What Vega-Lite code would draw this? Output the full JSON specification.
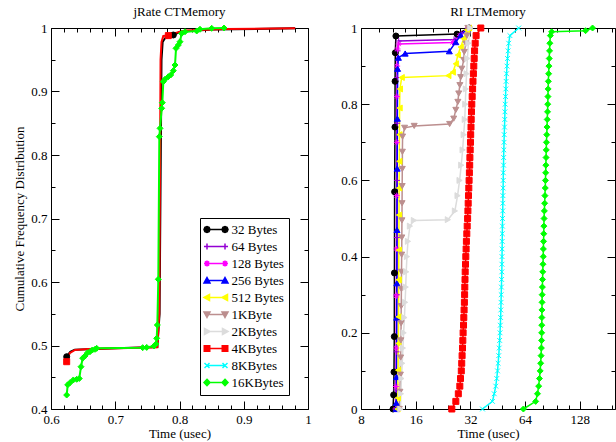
{
  "$schema": "https://vega.github.io/schema/vega-lite/v6.json",
  "background": "white",
  "padding": {"left": 13, "top": 5, "right": 0, "bottom": 0},
  "config": {
    "font": "Liberation Serif",
    "view": {"stroke": "black", "strokeWidth": 1},
    "axis": {"labelFont": "Liberation Serif", "labelFontSize": 13, "labelColor": "black", "titleFont": "Liberation Serif", "titleFontSize": 13, "titleFontWeight": "normal", "titleColor": "black", "tickColor": "black", "tickWidth": 1, "grid": false, "domain": false},
    "title": {"font": "Liberation Serif", "fontSize": 13, "fontWeight": "normal", "color": "black", "offset": 3},
    "legend": {"title": null, "orient": "none", "legendX": 149, "legendY": 190, "symbolSize": 100, "symbolStrokeWidth": 1.5, "symbolOpacity": 1, "labelFont": "Liberation Serif", "labelFontSize": 13, "labelColor": "black", "rowPadding": 3, "padding": 5, "strokeColor": "black", "fillColor": "white", "symbolOffset": 4.5, "labelOffset": 9},
    "concat": {"spacing": 28}
  },
  "resolve": {"scale": {"color": "independent", "shape": "independent", "stroke": "independent"}},
  "datasets": {
    "leftLines": [
      {"s":"32 Bytes","t":0.6244,"p":0.4824},{"s":"32 Bytes","t":0.63,"p":0.49},{"s":"32 Bytes","t":0.637,"p":0.4935},{"s":"32 Bytes","t":0.7,"p":0.4955},{"s":"32 Bytes","t":0.7655,"p":0.4975},{"s":"32 Bytes","t":0.769,"p":0.55},{"s":"32 Bytes","t":0.772,"p":0.95},{"s":"32 Bytes","t":0.7738,"p":0.978},{"s":"32 Bytes","t":0.7774,"p":0.9838},{"s":"32 Bytes","t":0.7904,"p":0.989},{"s":"32 Bytes","t":0.8008,"p":0.994},{"s":"32 Bytes","t":0.85,"p":0.9975},{"s":"32 Bytes","t":0.98,"p":0.9995},
      {"s":"4KBytes","t":0.6244,"p":0.4745},{"s":"4KBytes","t":0.629,"p":0.488},{"s":"4KBytes","t":0.6374,"p":0.493},{"s":"4KBytes","t":0.658,"p":0.4945},{"s":"4KBytes","t":0.7655,"p":0.4972},{"s":"4KBytes","t":0.7685,"p":0.55},{"s":"4KBytes","t":0.7705,"p":0.95},{"s":"4KBytes","t":0.772,"p":0.978},{"s":"4KBytes","t":0.7748,"p":0.9874},{"s":"4KBytes","t":0.7826,"p":0.988},{"s":"4KBytes","t":0.7904,"p":0.9915},{"s":"4KBytes","t":0.81,"p":0.996},{"s":"4KBytes","t":0.87,"p":0.9985},{"s":"4KBytes","t":0.98,"p":0.9995},
      {"s":"16KBytes","t":0.6244,"p":0.422},{"s":"16KBytes","t":0.626,"p":0.438},{"s":"16KBytes","t":0.6296,"p":0.4414},{"s":"16KBytes","t":0.6347,"p":0.4457},{"s":"16KBytes","t":0.64,"p":0.4468},{"s":"16KBytes","t":0.644,"p":0.448},{"s":"16KBytes","t":0.6467,"p":0.4666},{"s":"16KBytes","t":0.6493,"p":0.48},{"s":"16KBytes","t":0.6529,"p":0.4835},{"s":"16KBytes","t":0.657,"p":0.4887},{"s":"16KBytes","t":0.6607,"p":0.4902},{"s":"16KBytes","t":0.6643,"p":0.4929},{"s":"16KBytes","t":0.6685,"p":0.494},{"s":"16KBytes","t":0.6711,"p":0.4955},{"s":"16KBytes","t":0.7427,"p":0.4966},{"s":"16KBytes","t":0.749,"p":0.497},{"s":"16KBytes","t":0.7603,"p":0.4992},{"s":"16KBytes","t":0.7634,"p":0.5024},{"s":"16KBytes","t":0.7645,"p":0.5113},{"s":"16KBytes","t":0.7655,"p":0.5323},{"s":"16KBytes","t":0.767,"p":0.6043},{"s":"16KBytes","t":0.7686,"p":0.8289},{"s":"16KBytes","t":0.7697,"p":0.842},{"s":"16KBytes","t":0.7723,"p":0.8735},{"s":"16KBytes","t":0.7733,"p":0.8824},{"s":"16KBytes","t":0.7748,"p":0.9155},{"s":"16KBytes","t":0.7774,"p":0.9192},{"s":"16KBytes","t":0.7826,"p":0.9233},{"s":"16KBytes","t":0.7863,"p":0.926},{"s":"16KBytes","t":0.7904,"p":0.9328},{"s":"16KBytes","t":0.793,"p":0.9417},{"s":"16KBytes","t":0.7946,"p":0.968},{"s":"16KBytes","t":0.7982,"p":0.9732},{"s":"16KBytes","t":0.8008,"p":0.9784},{"s":"16KBytes","t":0.8034,"p":0.9915},{"s":"16KBytes","t":0.8086,"p":0.9941},{"s":"16KBytes","t":0.8268,"p":0.9953},{"s":"16KBytes","t":0.8319,"p":0.998},{"s":"16KBytes","t":0.8501,"p":0.9995},{"s":"16KBytes","t":0.8693,"p":1.0}
    ],
    "leftMarks": [
      {"s":"32 Bytes","t":0.6244,"p":0.4824},{"s":"32 Bytes","t":0.7904,"p":0.989},
      {"s":"4KBytes","t":0.6244,"p":0.4745},{"s":"4KBytes","t":0.7826,"p":0.988},
      {"s":"16KBytes","t":0.6244,"p":0.422},{"s":"16KBytes","t":0.626,"p":0.438},{"s":"16KBytes","t":0.6296,"p":0.4414},{"s":"16KBytes","t":0.6347,"p":0.4457},{"s":"16KBytes","t":0.64,"p":0.4468},{"s":"16KBytes","t":0.644,"p":0.448},{"s":"16KBytes","t":0.6467,"p":0.4666},{"s":"16KBytes","t":0.6493,"p":0.48},{"s":"16KBytes","t":0.6529,"p":0.4835},{"s":"16KBytes","t":0.657,"p":0.4887},{"s":"16KBytes","t":0.6607,"p":0.4902},{"s":"16KBytes","t":0.6643,"p":0.4929},{"s":"16KBytes","t":0.6685,"p":0.494},{"s":"16KBytes","t":0.6711,"p":0.4955},{"s":"16KBytes","t":0.7427,"p":0.4966},{"s":"16KBytes","t":0.749,"p":0.497},{"s":"16KBytes","t":0.7603,"p":0.4992},{"s":"16KBytes","t":0.7634,"p":0.5024},{"s":"16KBytes","t":0.7645,"p":0.5113},{"s":"16KBytes","t":0.7655,"p":0.5323},{"s":"16KBytes","t":0.767,"p":0.6043},{"s":"16KBytes","t":0.7686,"p":0.8289},{"s":"16KBytes","t":0.7697,"p":0.842},{"s":"16KBytes","t":0.7723,"p":0.8735},{"s":"16KBytes","t":0.7733,"p":0.8824},{"s":"16KBytes","t":0.7748,"p":0.9155},{"s":"16KBytes","t":0.7774,"p":0.9192},{"s":"16KBytes","t":0.7826,"p":0.9233},{"s":"16KBytes","t":0.7863,"p":0.926},{"s":"16KBytes","t":0.7904,"p":0.9328},{"s":"16KBytes","t":0.793,"p":0.9417},{"s":"16KBytes","t":0.7946,"p":0.968},{"s":"16KBytes","t":0.7982,"p":0.9732},{"s":"16KBytes","t":0.8008,"p":0.9784},{"s":"16KBytes","t":0.8034,"p":0.9915},{"s":"16KBytes","t":0.8086,"p":0.9941},{"s":"16KBytes","t":0.8268,"p":0.9953},{"s":"16KBytes","t":0.8319,"p":0.998},{"s":"16KBytes","t":0.8501,"p":0.9995},{"s":"16KBytes","t":0.8693,"p":1.0}
    ],
    "right": [
      {"s":"32 Bytes","t":12.0,"p":0},{"s":"32 Bytes","t":12.1,"p":0.037},{"s":"32 Bytes","t":12.15,"p":0.097},{"s":"32 Bytes","t":12.2,"p":0.19},{"s":"32 Bytes","t":12.22,"p":0.357},{"s":"32 Bytes","t":12.25,"p":0.57},{"s":"32 Bytes","t":12.3,"p":0.74},{"s":"32 Bytes","t":12.32,"p":0.86},{"s":"32 Bytes","t":12.36,"p":0.935},{"s":"32 Bytes","t":12.45,"p":0.979},{"s":"32 Bytes","t":27.0,"p":0.984},{"s":"32 Bytes","t":31.5,"p":1.0},
      {"s":"64 Bytes","t":12.45,"p":0},{"s":"64 Bytes","t":12.5,"p":0.05},{"s":"64 Bytes","t":12.55,"p":0.15},{"s":"64 Bytes","t":12.58,"p":0.3},{"s":"64 Bytes","t":12.6,"p":0.45},{"s":"64 Bytes","t":12.62,"p":0.6},{"s":"64 Bytes","t":12.65,"p":0.75},{"s":"64 Bytes","t":12.68,"p":0.87},{"s":"64 Bytes","t":12.72,"p":0.94},{"s":"64 Bytes","t":12.9,"p":0.966},{"s":"64 Bytes","t":26.0,"p":0.97},{"s":"64 Bytes","t":28.5,"p":0.985},{"s":"64 Bytes","t":31.2,"p":1.0},
      {"s":"128 Bytes","t":12.4,"p":0},{"s":"128 Bytes","t":12.45,"p":0.059},{"s":"128 Bytes","t":12.5,"p":0.16},{"s":"128 Bytes","t":12.52,"p":0.297},{"s":"128 Bytes","t":12.55,"p":0.42},{"s":"128 Bytes","t":12.58,"p":0.56},{"s":"128 Bytes","t":12.6,"p":0.7},{"s":"128 Bytes","t":12.62,"p":0.82},{"s":"128 Bytes","t":12.65,"p":0.9},{"s":"128 Bytes","t":12.7,"p":0.945},{"s":"128 Bytes","t":12.9,"p":0.958},{"s":"128 Bytes","t":25.5,"p":0.962},{"s":"128 Bytes","t":28.0,"p":0.98},{"s":"128 Bytes","t":31.0,"p":1.0},
      {"s":"256 Bytes","t":12.5,"p":0},{"s":"256 Bytes","t":12.52,"p":0.016},{"s":"256 Bytes","t":12.55,"p":0.084},{"s":"256 Bytes","t":12.58,"p":0.24},{"s":"256 Bytes","t":12.6,"p":0.33},{"s":"256 Bytes","t":12.62,"p":0.47},{"s":"256 Bytes","t":12.65,"p":0.631},{"s":"256 Bytes","t":12.68,"p":0.762},{"s":"256 Bytes","t":12.72,"p":0.893},{"s":"256 Bytes","t":12.85,"p":0.922},{"s":"256 Bytes","t":14.0,"p":0.933},{"s":"256 Bytes","t":24.5,"p":0.939},{"s":"256 Bytes","t":26.6,"p":0.963},{"s":"256 Bytes","t":28.3,"p":0.981},{"s":"256 Bytes","t":31.1,"p":1.0},
      {"s":"512 Bytes","t":12.7,"p":0},{"s":"512 Bytes","t":12.75,"p":0.029},{"s":"512 Bytes","t":12.8,"p":0.102},{"s":"512 Bytes","t":12.85,"p":0.172},{"s":"512 Bytes","t":12.88,"p":0.242},{"s":"512 Bytes","t":12.9,"p":0.339},{"s":"512 Bytes","t":12.92,"p":0.417},{"s":"512 Bytes","t":12.95,"p":0.509},{"s":"512 Bytes","t":12.97,"p":0.58},{"s":"512 Bytes","t":13.0,"p":0.65},{"s":"512 Bytes","t":13.02,"p":0.72},{"s":"512 Bytes","t":13.05,"p":0.79},{"s":"512 Bytes","t":13.1,"p":0.84},{"s":"512 Bytes","t":13.4,"p":0.87},{"s":"512 Bytes","t":24.2,"p":0.875},{"s":"512 Bytes","t":25.6,"p":0.884},{"s":"512 Bytes","t":26.6,"p":0.906},{"s":"512 Bytes","t":27.3,"p":0.929},{"s":"512 Bytes","t":28.3,"p":0.95},{"s":"512 Bytes","t":29.4,"p":0.972},{"s":"512 Bytes","t":30.6,"p":0.995},{"s":"512 Bytes","t":31.4,"p":1.0},
      {"s":"1KByte","t":13.0,"p":0},{"s":"1KByte","t":13.1,"p":0.045},{"s":"1KByte","t":13.18,"p":0.09},{"s":"1KByte","t":13.22,"p":0.135},{"s":"1KByte","t":13.26,"p":0.18},{"s":"1KByte","t":13.3,"p":0.225},{"s":"1KByte","t":13.32,"p":0.27},{"s":"1KByte","t":13.35,"p":0.315},{"s":"1KByte","t":13.37,"p":0.36},{"s":"1KByte","t":13.4,"p":0.405},{"s":"1KByte","t":13.42,"p":0.45},{"s":"1KByte","t":13.44,"p":0.495},{"s":"1KByte","t":13.46,"p":0.54},{"s":"1KByte","t":13.48,"p":0.585},{"s":"1KByte","t":13.5,"p":0.63},{"s":"1KByte","t":13.52,"p":0.675},{"s":"1KByte","t":13.55,"p":0.715},{"s":"1KByte","t":13.9,"p":0.738},{"s":"1KByte","t":15.7,"p":0.743},{"s":"1KByte","t":24.6,"p":0.748},{"s":"1KByte","t":25.9,"p":0.762},{"s":"1KByte","t":26.6,"p":0.785},{"s":"1KByte","t":27.3,"p":0.806},{"s":"1KByte","t":27.6,"p":0.828},{"s":"1KByte","t":28.0,"p":0.85},{"s":"1KByte","t":28.3,"p":0.871},{"s":"1KByte","t":28.7,"p":0.893},{"s":"1KByte","t":29.4,"p":0.916},{"s":"1KByte","t":29.6,"p":0.937},{"s":"1KByte","t":30.2,"p":0.959},{"s":"1KByte","t":30.6,"p":0.98},{"s":"1KByte","t":31.0,"p":1.0},
      {"s":"2KBytes","t":13.19,"p":0},{"s":"2KBytes","t":13.27,"p":0.04},{"s":"2KBytes","t":13.35,"p":0.08},{"s":"2KBytes","t":13.49,"p":0.12},{"s":"2KBytes","t":13.61,"p":0.16},{"s":"2KBytes","t":13.73,"p":0.2},{"s":"2KBytes","t":13.87,"p":0.24},{"s":"2KBytes","t":13.99,"p":0.28},{"s":"2KBytes","t":14.1,"p":0.32},{"s":"2KBytes","t":14.19,"p":0.36},{"s":"2KBytes","t":14.32,"p":0.4},{"s":"2KBytes","t":14.5,"p":0.44},{"s":"2KBytes","t":14.87,"p":0.48},{"s":"2KBytes","t":15.64,"p":0.495},{"s":"2KBytes","t":24.05,"p":0.497},{"s":"2KBytes","t":26.3,"p":0.52},{"s":"2KBytes","t":27.2,"p":0.56},{"s":"2KBytes","t":27.9,"p":0.6},{"s":"2KBytes","t":28.5,"p":0.64},{"s":"2KBytes","t":29.0,"p":0.68},{"s":"2KBytes","t":29.4,"p":0.72},{"s":"2KBytes","t":29.8,"p":0.76},{"s":"2KBytes","t":30.0,"p":0.8},{"s":"2KBytes","t":30.2,"p":0.84},{"s":"2KBytes","t":30.5,"p":0.88},{"s":"2KBytes","t":30.8,"p":0.92},{"s":"2KBytes","t":31.2,"p":0.96},{"s":"2KBytes","t":32.0,"p":1.0},
      {"s":"4KBytes","t":25.29,"p":0},{"s":"4KBytes","t":26.61,"p":0.02},{"s":"4KBytes","t":27.46,"p":0.04},{"s":"4KBytes","t":27.99,"p":0.06},{"s":"4KBytes","t":28.23,"p":0.08},{"s":"4KBytes","t":28.52,"p":0.1},{"s":"4KBytes","t":28.67,"p":0.12},{"s":"4KBytes","t":28.81,"p":0.14},{"s":"4KBytes","t":28.96,"p":0.16},{"s":"4KBytes","t":29.07,"p":0.18},{"s":"4KBytes","t":29.18,"p":0.2},{"s":"4KBytes","t":29.33,"p":0.22},{"s":"4KBytes","t":29.44,"p":0.24},{"s":"4KBytes","t":29.55,"p":0.26},{"s":"4KBytes","t":29.66,"p":0.28},{"s":"4KBytes","t":29.74,"p":0.3},{"s":"4KBytes","t":29.81,"p":0.32},{"s":"4KBytes","t":29.89,"p":0.34},{"s":"4KBytes","t":29.96,"p":0.36},{"s":"4KBytes","t":30.08,"p":0.38},{"s":"4KBytes","t":30.19,"p":0.4},{"s":"4KBytes","t":30.31,"p":0.42},{"s":"4KBytes","t":30.42,"p":0.44},{"s":"4KBytes","t":30.58,"p":0.46},{"s":"4KBytes","t":30.73,"p":0.48},{"s":"4KBytes","t":30.89,"p":0.5},{"s":"4KBytes","t":31.01,"p":0.52},{"s":"4KBytes","t":31.12,"p":0.54},{"s":"4KBytes","t":31.24,"p":0.56},{"s":"4KBytes","t":31.36,"p":0.58},{"s":"4KBytes","t":31.48,"p":0.6},{"s":"4KBytes","t":31.6,"p":0.62},{"s":"4KBytes","t":31.72,"p":0.64},{"s":"4KBytes","t":31.8,"p":0.66},{"s":"4KBytes","t":31.92,"p":0.68},{"s":"4KBytes","t":32.04,"p":0.7},{"s":"4KBytes","t":32.12,"p":0.72},{"s":"4KBytes","t":32.25,"p":0.74},{"s":"4KBytes","t":32.33,"p":0.76},{"s":"4KBytes","t":32.45,"p":0.78},{"s":"4KBytes","t":32.57,"p":0.8},{"s":"4KBytes","t":32.74,"p":0.82},{"s":"4KBytes","t":32.91,"p":0.84},{"s":"4KBytes","t":33.07,"p":0.86},{"s":"4KBytes","t":33.24,"p":0.88},{"s":"4KBytes","t":33.41,"p":0.9},{"s":"4KBytes","t":33.58,"p":0.92},{"s":"4KBytes","t":33.75,"p":0.94},{"s":"4KBytes","t":34.01,"p":0.96},{"s":"4KBytes","t":34.4,"p":0.98},{"s":"4KBytes","t":36.51,"p":1.0},
      {"s":"8KBytes","t":37.3,"p":0},{"s":"8KBytes","t":42.32,"p":0.02},{"s":"8KBytes","t":43.29,"p":0.04},{"s":"8KBytes","t":44.13,"p":0.06},{"s":"8KBytes","t":44.69,"p":0.08},{"s":"8KBytes","t":45.14,"p":0.1},{"s":"8KBytes","t":45.49,"p":0.12},{"s":"8KBytes","t":45.83,"p":0.14},{"s":"8KBytes","t":46.12,"p":0.16},{"s":"8KBytes","t":46.36,"p":0.18},{"s":"8KBytes","t":46.59,"p":0.2},{"s":"8KBytes","t":46.77,"p":0.22},{"s":"8KBytes","t":46.95,"p":0.24},{"s":"8KBytes","t":47.07,"p":0.26},{"s":"8KBytes","t":47.19,"p":0.28},{"s":"8KBytes","t":47.3,"p":0.3},{"s":"8KBytes","t":47.42,"p":0.32},{"s":"8KBytes","t":47.54,"p":0.34},{"s":"8KBytes","t":47.66,"p":0.36},{"s":"8KBytes","t":47.72,"p":0.38},{"s":"8KBytes","t":47.78,"p":0.4},{"s":"8KBytes","t":47.84,"p":0.42},{"s":"8KBytes","t":47.9,"p":0.44},{"s":"8KBytes","t":47.96,"p":0.46},{"s":"8KBytes","t":48.02,"p":0.48},{"s":"8KBytes","t":48.08,"p":0.5},{"s":"8KBytes","t":48.21,"p":0.52},{"s":"8KBytes","t":48.27,"p":0.54},{"s":"8KBytes","t":48.33,"p":0.56},{"s":"8KBytes","t":48.45,"p":0.58},{"s":"8KBytes","t":48.51,"p":0.6},{"s":"8KBytes","t":48.57,"p":0.62},{"s":"8KBytes","t":48.7,"p":0.64},{"s":"8KBytes","t":48.76,"p":0.66},{"s":"8KBytes","t":48.89,"p":0.68},{"s":"8KBytes","t":49.01,"p":0.7},{"s":"8KBytes","t":49.13,"p":0.72},{"s":"8KBytes","t":49.32,"p":0.74},{"s":"8KBytes","t":49.45,"p":0.76},{"s":"8KBytes","t":49.57,"p":0.78},{"s":"8KBytes","t":49.76,"p":0.8},{"s":"8KBytes","t":49.95,"p":0.82},{"s":"8KBytes","t":50.14,"p":0.84},{"s":"8KBytes","t":50.33,"p":0.86},{"s":"8KBytes","t":50.58,"p":0.88},{"s":"8KBytes","t":50.9,"p":0.9},{"s":"8KBytes","t":51.22,"p":0.92},{"s":"8KBytes","t":51.62,"p":0.94},{"s":"8KBytes","t":52.01,"p":0.96},{"s":"8KBytes","t":52.81,"p":0.98},{"s":"8KBytes","t":59.03,"p":1.0},
      {"s":"16KBytes","t":62.64,"p":0},{"s":"16KBytes","t":73.19,"p":0.02},{"s":"16KBytes","t":74.88,"p":0.04},{"s":"16KBytes","t":76.02,"p":0.06},{"s":"16KBytes","t":76.79,"p":0.08},{"s":"16KBytes","t":77.48,"p":0.1},{"s":"16KBytes","t":77.97,"p":0.12},{"s":"16KBytes","t":78.37,"p":0.14},{"s":"16KBytes","t":78.66,"p":0.16},{"s":"16KBytes","t":78.86,"p":0.18},{"s":"16KBytes","t":78.96,"p":0.2},{"s":"16KBytes","t":79.06,"p":0.22},{"s":"16KBytes","t":79.16,"p":0.24},{"s":"16KBytes","t":79.26,"p":0.26},{"s":"16KBytes","t":79.36,"p":0.28},{"s":"16KBytes","t":79.46,"p":0.3},{"s":"16KBytes","t":79.66,"p":0.32},{"s":"16KBytes","t":79.86,"p":0.34},{"s":"16KBytes","t":80.07,"p":0.36},{"s":"16KBytes","t":80.27,"p":0.38},{"s":"16KBytes","t":80.57,"p":0.4},{"s":"16KBytes","t":80.67,"p":0.42},{"s":"16KBytes","t":80.88,"p":0.44},{"s":"16KBytes","t":81.08,"p":0.46},{"s":"16KBytes","t":81.19,"p":0.48},{"s":"16KBytes","t":81.39,"p":0.5},{"s":"16KBytes","t":81.7,"p":0.52},{"s":"16KBytes","t":82.01,"p":0.54},{"s":"16KBytes","t":82.32,"p":0.56},{"s":"16KBytes","t":82.64,"p":0.58},{"s":"16KBytes","t":82.85,"p":0.6},{"s":"16KBytes","t":83.06,"p":0.62},{"s":"16KBytes","t":83.27,"p":0.64},{"s":"16KBytes","t":83.48,"p":0.66},{"s":"16KBytes","t":83.69,"p":0.68},{"s":"16KBytes","t":83.9,"p":0.7},{"s":"16KBytes","t":84.22,"p":0.72},{"s":"16KBytes","t":84.54,"p":0.74},{"s":"16KBytes","t":84.75,"p":0.76},{"s":"16KBytes","t":85.07,"p":0.78},{"s":"16KBytes","t":85.29,"p":0.8},{"s":"16KBytes","t":85.51,"p":0.82},{"s":"16KBytes","t":85.72,"p":0.84},{"s":"16KBytes","t":85.94,"p":0.86},{"s":"16KBytes","t":86.27,"p":0.88},{"s":"16KBytes","t":86.6,"p":0.9},{"s":"16KBytes","t":86.93,"p":0.92},{"s":"16KBytes","t":87.26,"p":0.94},{"s":"16KBytes","t":87.59,"p":0.96},{"s":"16KBytes","t":88.15,"p":0.98},{"s":"16KBytes","t":89.61,"p":0.99},{"s":"16KBytes","t":137.75,"p":0.993},{"s":"16KBytes","t":150.5,"p":1.0}
    ]
  },
  "hconcat": [
    {
      "width": 257,
      "height": 381,
      "title": "jRate CTMemory",
      "resolve": {"axis": {"x": "independent", "y": "independent"}, "scale": {"shape": "independent", "color": "independent", "stroke": "independent"}},
      "layer": [
        {
          "data": {"name": "leftLines"},
          "mark": {"type": "line", "strokeWidth": 2},
          "encoding": {
            "x": {"field": "t", "type": "quantitative", "scale": {"domain": [0.6, 1], "nice": false, "zero": false}, "axis": {"orient": "bottom", "values": [0.6, 0.7, 0.8, 0.9, 1], "format": "~g", "tickSize": -8, "labelPadding": 12, "labelFlush": false, "title": "Time (usec)", "titlePadding": 1}},
            "y": {"field": "p", "type": "quantitative", "scale": {"domain": [0.4, 1], "nice": false, "zero": false}, "axis": {"orient": "left", "values": [0.4, 0.5, 0.6, 0.7, 0.8, 0.9, 1], "format": "~g", "tickSize": -8, "labelPadding": 12, "title": "Cumulative Frequency Distribution", "titlePadding": 4}},
            "color": {"field": "s", "type": "nominal", "scale": {"domain": ["32 Bytes", "64 Bytes", "128 Bytes", "256 Bytes", "512 Bytes", "1KByte", "2KBytes", "4KBytes", "8KBytes", "16KBytes"], "range": ["#000000", "#9400d3", "#ff00ff", "#0000ff", "#ffff00", "#bc8f8f", "#dcdcdc", "#ff0000", "#00ffff", "#00ff00"]}, "legend": null},
            "order": {"field": "p", "type": "quantitative"}
          }
        },
        {
          "data": {"name": "leftMarks"},
          "mark": {"type": "point", "filled": true, "size": 36, "strokeWidth": 1, "opacity": 1},
          "encoding": {
            "x": {"field": "t", "type": "quantitative", "scale": {"domain": [0.6, 1], "nice": false, "zero": false}, "axis": {"orient": "top", "values": [0.6, 0.7, 0.8, 0.9, 1], "tickSize": -8, "labels": false, "title": null}},
            "y": {"field": "p", "type": "quantitative", "scale": {"domain": [0.4, 1], "nice": false, "zero": false}, "axis": {"orient": "right", "values": [0.4, 0.5, 0.6, 0.7, 0.8, 0.9, 1], "tickSize": -8, "labels": false, "title": null}},
            "color": {"field": "s", "type": "nominal", "scale": {"domain": ["32 Bytes", "64 Bytes", "128 Bytes", "256 Bytes", "512 Bytes", "1KByte", "2KBytes", "4KBytes", "8KBytes", "16KBytes"], "range": ["#000000", "#9400d3", "#ff00ff", "#0000ff", "#ffff00", "#bc8f8f", "#dcdcdc", "#ff0000", "#00ffff", "#00ff00"]}, "legend": null},
            "shape": {"field": "s", "type": "nominal", "scale": {"domain": ["32 Bytes", "64 Bytes", "128 Bytes", "256 Bytes", "512 Bytes", "1KByte", "2KBytes", "4KBytes", "8KBytes", "16KBytes"], "range": ["circle", "M-1,0L1,0M0,-1L0,1", "M-1,0L1,0M0,-1L0,1M-0.7,-0.7L0.7,0.7M-0.7,0.7L0.7,-0.7", "triangle-up", "triangle-left", "triangle-down", "triangle-right", "square", "M-0.8,-0.8L0.8,0.8M-0.8,0.8L0.8,-0.8", "diamond"]}, "legend": null},
            "stroke": {"field": "s", "type": "nominal", "scale": {"domain": ["32 Bytes", "64 Bytes", "128 Bytes", "256 Bytes", "512 Bytes", "1KByte", "2KBytes", "4KBytes", "8KBytes", "16KBytes"], "range": ["#000000", "#9400d3", "#ff00ff", "#0000ff", "#ffff00", "#bc8f8f", "#dcdcdc", "#ff0000", "#00ffff", "#00ff00"]}, "legend": null}
          }
        },
        {
          "data": {"name": "leftMarks"},
          "mark": {"type": "point", "filled": true, "opacity": 0},
          "encoding": {
            "x": {"field": "t", "type": "quantitative", "scale": {"domain": [0.6, 1], "nice": false, "zero": false}, "axis": null},
            "y": {"field": "p", "type": "quantitative", "scale": {"domain": [0.4, 1], "nice": false, "zero": false}, "axis": null},
            "color": {"field": "s", "type": "nominal", "scale": {"domain": ["32 Bytes", "64 Bytes", "128 Bytes", "256 Bytes", "512 Bytes", "1KByte", "2KBytes", "4KBytes", "8KBytes", "16KBytes"], "range": ["#000000", "#9400d3", "#ff00ff", "#0000ff", "#ffff00", "#bc8f8f", "#dcdcdc", "#ff0000", "#00ffff", "#00ff00"]}},
            "stroke": {"field": "s", "type": "nominal", "scale": {"domain": ["32 Bytes", "64 Bytes", "128 Bytes", "256 Bytes", "512 Bytes", "1KByte", "2KBytes", "4KBytes", "8KBytes", "16KBytes"], "range": ["#000000", "#9400d3", "#ff00ff", "#0000ff", "#ffff00", "#bc8f8f", "#dcdcdc", "#ff0000", "#00ffff", "#00ff00"]}},
            "shape": {"field": "s", "type": "nominal",
              "scale": {"domain": ["32 Bytes", "64 Bytes", "128 Bytes", "256 Bytes", "512 Bytes", "1KByte", "2KBytes", "4KBytes", "8KBytes", "16KBytes"],
                "range": [
                  "M-1.8,0L1.8,0M-2.4,0L-2.22,-0.42L-1.8,-0.6L-1.38,-0.42L-1.2,0L-1.38,0.42L-1.8,0.6L-2.22,0.42ZM1.2,0L1.38,-0.42L1.8,-0.6L2.22,-0.42L2.4,0L2.22,0.42L1.8,0.6L1.38,0.42Z",
                  "M-2.4,0L2.4,0M-1.8,-0.6L-1.8,0.6M1.8,-0.6L1.8,0.6",
                  "M-2.4,0L2.4,0M-1.8,-0.6L-1.8,0.6M1.8,-0.6L1.8,0.6M-2.22,-0.42L-1.38,0.42M-2.22,0.42L-1.38,-0.42M1.38,-0.42L2.22,0.42M1.38,0.42L2.22,-0.42",
                  "M-1.8,0L1.8,0M-1.8,-0.6L-1.2,0.5L-2.4,0.5ZM1.8,-0.6L2.4,0.5L1.2,0.5Z",
                  "M-1.8,0L1.8,0M-2.4,0L-1.3,-0.6L-1.3,0.6ZM1.2,0L2.3,-0.6L2.3,0.6Z",
                  "M-1.8,0L1.8,0M-1.8,0.6L-1.2,-0.5L-2.4,-0.5ZM1.8,0.6L2.4,-0.5L1.2,-0.5Z",
                  "M-1.8,0L1.8,0M-1.2,0L-2.3,-0.6L-2.3,0.6ZM2.4,0L1.3,-0.6L1.3,0.6Z",
                  "M-1.8,0L1.8,0M-2.35,-0.55L-1.25,-0.55L-1.25,0.55L-2.35,0.55ZM1.25,-0.55L2.35,-0.55L2.35,0.55L1.25,0.55Z",
                  "M-1.8,0L1.8,0M-2.3,-0.5L-1.3,0.5M-2.3,0.5L-1.3,-0.5M1.3,-0.5L2.3,0.5M1.3,0.5L2.3,-0.5",
                  "M-1.8,0L1.8,0M-1.8,-0.65L-1.2,0L-1.8,0.65L-2.4,0ZM1.8,-0.65L2.4,0L1.8,0.65L1.2,0Z"
                ]}
            }
          }
        },
        {
          "data": {"name": "leftMarks"},
          "mark": {"type": "point", "opacity": 0},
          "encoding": {
            "x": {"field": "t", "type": "quantitative", "scale": {"domain": [0.6, 1], "nice": false, "zero": false}, "axis": {"orient": "bottom", "values": [0.62, 0.64, 0.66, 0.68, 0.72, 0.74, 0.76, 0.78, 0.82, 0.84, 0.86, 0.88, 0.92, 0.94, 0.96, 0.98], "tickSize": -4, "labels": false, "title": null}},
            "y": {"field": "p", "type": "quantitative", "scale": {"domain": [0.4, 1], "nice": false, "zero": false}, "axis": {"orient": "left", "values": [0.45, 0.55, 0.65, 0.75, 0.85, 0.95], "tickSize": -4, "labels": false, "title": null}}
          }
        },
        {
          "data": {"name": "leftMarks"},
          "mark": {"type": "point", "opacity": 0},
          "encoding": {
            "x": {"field": "t", "type": "quantitative", "scale": {"domain": [0.6, 1], "nice": false, "zero": false}, "axis": {"orient": "top", "values": [0.62, 0.64, 0.66, 0.68, 0.72, 0.74, 0.76, 0.78, 0.82, 0.84, 0.86, 0.88, 0.92, 0.94, 0.96, 0.98], "tickSize": -4, "labels": false, "title": null}},
            "y": {"field": "p", "type": "quantitative", "scale": {"domain": [0.4, 1], "nice": false, "zero": false}, "axis": {"orient": "right", "values": [0.45, 0.55, 0.65, 0.75, 0.85, 0.95], "tickSize": -4, "labels": false, "title": null}}
          }
        }
      ]
    },
    {
      "width": 254,
      "height": 381,
      "title": "RI LTMemory",
      "data": {"name": "right"},
      "resolve": {"axis": {"x": "independent", "y": "independent"}},
      "layer": [
        {
          "mark": {"type": "line", "strokeWidth": 1.5},
          "encoding": {
            "x": {"field": "t", "type": "quantitative", "scale": {"type": "log", "base": 2, "domain": [8, 200], "nice": false}, "axis": {"orient": "bottom", "values": [8, 16, 32, 64, 128], "format": "d", "tickSize": -8, "labelPadding": 12, "labelFlush": false, "title": "Time (usec)", "titlePadding": 1}},
            "y": {"field": "p", "type": "quantitative", "scale": {"domain": [0, 1], "nice": false}, "axis": {"orient": "left", "values": [0, 0.2, 0.4, 0.6, 0.8, 1], "format": "~g", "tickSize": -8, "labelPadding": 12, "title": null}},
            "color": {"field": "s", "type": "nominal", "scale": {"domain": ["32 Bytes", "64 Bytes", "128 Bytes", "256 Bytes", "512 Bytes", "1KByte", "2KBytes", "4KBytes", "8KBytes", "16KBytes"], "range": ["#000000", "#9400d3", "#ff00ff", "#0000ff", "#ffff00", "#bc8f8f", "#dcdcdc", "#ff0000", "#00ffff", "#00ff00"]}, "legend": null},
            "order": {"field": "p", "type": "quantitative"}
          }
        },
        {
          "mark": {"type": "point", "filled": true, "size": 36, "strokeWidth": 1, "opacity": 1},
          "encoding": {
            "x": {"field": "t", "type": "quantitative", "scale": {"type": "log", "base": 2, "domain": [8, 200], "nice": false}, "axis": {"orient": "top", "values": [8, 16, 32, 64, 128], "tickSize": -8, "labels": false, "title": null}},
            "y": {"field": "p", "type": "quantitative", "scale": {"domain": [0, 1], "nice": false}, "axis": {"orient": "right", "values": [0, 0.2, 0.4, 0.6, 0.8, 1], "tickSize": -8, "labels": false, "title": null}},
            "color": {"field": "s", "type": "nominal", "scale": {"domain": ["32 Bytes", "64 Bytes", "128 Bytes", "256 Bytes", "512 Bytes", "1KByte", "2KBytes", "4KBytes", "8KBytes", "16KBytes"], "range": ["#000000", "#9400d3", "#ff00ff", "#0000ff", "#ffff00", "#bc8f8f", "#dcdcdc", "#ff0000", "#00ffff", "#00ff00"]}, "legend": null},
            "shape": {"field": "s", "type": "nominal", "scale": {"domain": ["32 Bytes", "64 Bytes", "128 Bytes", "256 Bytes", "512 Bytes", "1KByte", "2KBytes", "4KBytes", "8KBytes", "16KBytes"], "range": ["circle", "M-1,0L1,0M0,-1L0,1", "M-1,0L1,0M0,-1L0,1M-0.7,-0.7L0.7,0.7M-0.7,0.7L0.7,-0.7", "triangle-up", "triangle-left", "triangle-down", "triangle-right", "square", "M-0.8,-0.8L0.8,0.8M-0.8,0.8L0.8,-0.8", "diamond"]}, "legend": null},
            "stroke": {"field": "s", "type": "nominal", "scale": {"domain": ["32 Bytes", "64 Bytes", "128 Bytes", "256 Bytes", "512 Bytes", "1KByte", "2KBytes", "4KBytes", "8KBytes", "16KBytes"], "range": ["#000000", "#9400d3", "#ff00ff", "#0000ff", "#ffff00", "#bc8f8f", "#dcdcdc", "#ff0000", "#00ffff", "#00ff00"]}, "legend": null}
          }
        },
        {
          "mark": {"type": "point", "opacity": 0},
          "encoding": {
            "x": {"field": "t", "type": "quantitative", "scale": {"type": "log", "base": 2, "domain": [8, 200], "nice": false}, "axis": {"orient": "bottom", "values": [10, 12, 14, 20, 24, 28, 40, 48, 56, 80, 96, 112, 160, 192], "tickSize": -4, "labels": false, "title": null}},
            "y": {"field": "p", "type": "quantitative", "scale": {"domain": [0, 1], "nice": false}, "axis": {"orient": "left", "values": [0.1, 0.3, 0.5, 0.7, 0.9], "tickSize": -4, "labels": false, "title": null}}
          }
        },
        {
          "mark": {"type": "point", "opacity": 0},
          "encoding": {
            "x": {"field": "t", "type": "quantitative", "scale": {"type": "log", "base": 2, "domain": [8, 200], "nice": false}, "axis": {"orient": "top", "values": [10, 12, 14, 20, 24, 28, 40, 48, 56, 80, 96, 112, 160, 192], "tickSize": -4, "labels": false, "title": null}},
            "y": {"field": "p", "type": "quantitative", "scale": {"domain": [0, 1], "nice": false}, "axis": {"orient": "right", "values": [0.1, 0.3, 0.5, 0.7, 0.9], "tickSize": -4, "labels": false, "title": null}}
          }
        }
      ]
    }
  ]
}
